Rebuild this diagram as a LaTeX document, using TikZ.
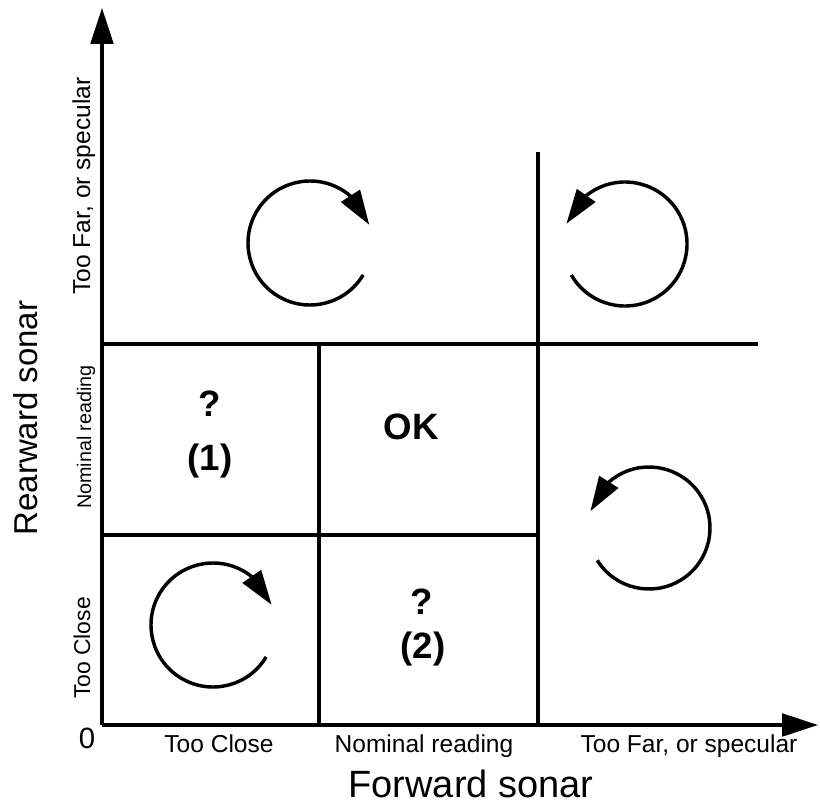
\documentclass[tikz,border=0pt]{standalone}
\usepackage{fontspec}
\setmainfont{Liberation Sans}
\usetikzlibrary{arrows.meta,bending}
\tikzset{
  axisline/.style={line width=2.5pt,-{Triangle[length=27pt,width=17pt]}},
  gridline/.style={line width=2.3pt},
  circarrow/.style={line width=2.6pt,-{Triangle[length=26pt,width=16.5pt,flex]}},
  lab/.style={font=\fontsize{18.4pt}{20pt}\selectfont,anchor=base,inner sep=0pt},
  big/.style={font=\fontsize{28.5pt}{30pt}\selectfont,anchor=base,inner sep=0pt},
  cellmark/.style={font=\bfseries\fontsize{27.5pt}{30pt}\selectfont,inner sep=0pt}
}
\begin{document}
\begin{tikzpicture}[x=0.75pt,y=-0.75pt]
\useasboundingbox (0,0) rectangle (820,805);
% axes
\coordinate (O) at (102,725);
\coordinate (Ytip) at (102,8);
\coordinate (Xtip) at (818,725);
\draw[axisline] (O) -- (Ytip);
\draw[axisline] (O) -- (Xtip);
% grid
\coordinate (v1b) at (319,725); \coordinate (v1t) at (319,343);
\coordinate (v2b) at (538,725); \coordinate (v2t) at (538,152);
\coordinate (h1l) at (102,344); \coordinate (h1r) at (758,344);
\coordinate (h2l) at (102,535); \coordinate (h2r) at (538,535);
\draw[gridline] (v1b) -- (v1t);
\draw[gridline] (v2b) -- (v2t);
\draw[gridline] (h1l) -- (h1r);
\draw[gridline] (h2l) -- (h2r);
% circular arrows
\coordinate (c1) at (310,243);
\coordinate (c2) at (625,244);
\coordinate (c3) at (649,528);
\coordinate (c4) at (213,625);
\draw[circarrow] (c1) ++(31:62) arc[start angle=31,end angle=343,radius=62];
\draw[circarrow] (c2) ++(150:62) arc[start angle=150,end angle=-161,radius=62];
\draw[circarrow] (c3) ++(148:61) arc[start angle=148,end angle=-164,radius=61];
\draw[circarrow] (c4) ++(31:62) arc[start angle=31,end angle=341,radius=62];
% cell marks
\node[cellmark] (q1) at (210,404) {?};
\node[cellmark] (n1) at (210,461) {(1)};
\node[cellmark] (ok) at (411,427) {OK};
\node[cellmark] (q2) at (422,602) {?};
\node[cellmark] (n2) at (423,649) {(2)};
% origin
\node[font=\fontsize{22pt}{24pt}\selectfont,inner sep=0pt] (zero) at (87,738) {0};
% x-axis labels
\node[lab] (xl1) at (219,752) {Too Close};
\node[lab] (xl2) at (424,752) {Nominal reading};
\node[lab] (xl3) at (689,752) {Too Far, or specular};
\node[big] (xt) at (471,797) {Forward sonar};
% y-axis labels
\node[lab,rotate=90,font=\fontsize{17.2pt}{19pt}\selectfont] (yl1) at (90,648) {Too Close};
\node[lab,rotate=90,font=\fontsize{14.8pt}{16pt}\selectfont] (yl2) at (91,437) {Nominal reading};
\node[lab,rotate=90] (yl3) at (90,186) {Too Far, or specular};
\node[big,rotate=90,font=\fontsize{24.75pt}{27pt}\selectfont] (yt) at (37,418) {Rearward sonar};
\end{tikzpicture}
\end{document}
